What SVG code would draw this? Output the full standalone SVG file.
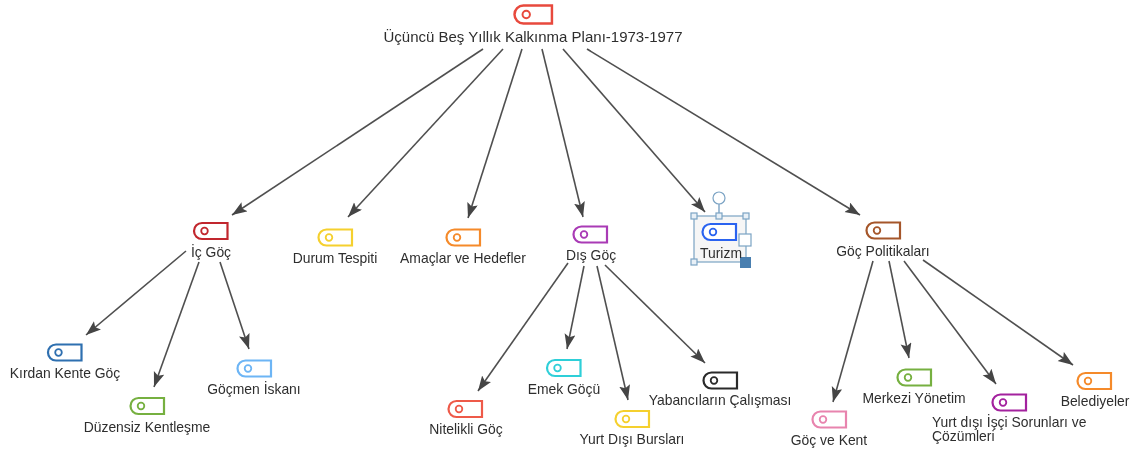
<svg xmlns="http://www.w3.org/2000/svg" width="1133" height="452" viewBox="0 0 1133 452">
<style>
text{font-family:"Liberation Sans",Arial,sans-serif;font-size:13.9px;fill:#2e2e2e;text-anchor:middle}
.e{stroke:#505050;stroke-width:1.6;fill:none;marker-end:url(#a)}
.t{fill:#fff;stroke-width:2.2}
.o{fill:none;stroke-width:1.8}
.h{fill:#e8f0f7;stroke:#7ba3c4;stroke-width:1.2}
</style>
<defs>
<marker id="a" markerUnits="userSpaceOnUse" markerWidth="16" markerHeight="12" refX="15" refY="5.5" orient="auto"><path d="M0 0L15 5.5L0 11L3 5.5Z" fill="#444"/></marker>
<symbol id="tag" viewBox="0 0 34 17" width="34" height="17" overflow="visible"><path class="t" stroke="inherit" d="M8 0.5H33.5V16.5H8A8 8 0 0 1 8 0.5Z"/><circle class="o" cx="10.500" cy="8.500" r="3.300"/></symbol>
<filter id="b" x="-5%" y="-5%" width="110%" height="110%"><feGaussianBlur stdDeviation="0.45"/></filter>
</defs>
<rect width="1133" height="452" fill="#fff"/>
<g filter="url(#b)">
<g id="connectors">
<path class="e" d="M483 49L232 215"/><path class="e" d="M503 49L348 217"/><path class="e" d="M522 49L468 218"/><path class="e" d="M542 49L583 217"/><path class="e" d="M563 49L705 212"/><path class="e" d="M587 49L860 215"/>
<path class="e" d="M186 251L86 335"/><path class="e" d="M199 262L154 387"/><path class="e" d="M220 262L249 349"/>
<path class="e" d="M568 263L478 391"/><path class="e" d="M584 266L567 349"/><path class="e" d="M597 266L628 400"/><path class="e" d="M605 265L705 363"/>
<path class="e" d="M873 261L833 402"/><path class="e" d="M889 261L909 358"/><path class="e" d="M904 261L996 384"/><path class="e" d="M923 260L1073 365"/>
</g>
<g id="n-root"><use href="#tag" x="514" y="5" width="39" height="19" stroke="#e8493c"/><text x="533" y="42" style="font-size:15px">Üçüncü Beş Yıllık Kalkınma Planı-1973-1977</text></g>
<g id="n-ic"><use href="#tag" x="194" y="222.500" stroke="#c1272d"/><text x="211" y="257">İç Göç</text></g>
<g id="n-durum"><use href="#tag" x="318.500" y="229" stroke="#f5d02f"/><text x="335" y="263">Durum Tespiti</text></g>
<g id="n-amac"><use href="#tag" x="446.500" y="229" stroke="#f58a2a"/><text x="463" y="263">Amaçlar ve Hedefler</text></g>
<g id="n-dis"><use href="#tag" x="573.500" y="226" stroke="#a93ab5"/><text x="591" y="260">Dış Göç</text></g>
<g id="n-turizm">
<rect x="694" y="216" width="52" height="46" fill="#f6f6f6" stroke="#7ba3c4" stroke-width="1.200"/>
<path d="M719 204V216" stroke="#7ba3c4" stroke-width="1.400"/><circle cx="719" cy="198" r="6" fill="#fff" stroke="#7ba3c4" stroke-width="1.200"/>
<rect class="h" x="691" y="213" width="6" height="6"/><rect class="h" x="716" y="213" width="6" height="6"/><rect class="h" x="743" y="213" width="6" height="6"/><rect class="h" x="691" y="259" width="6" height="6"/>
<rect x="739" y="234" width="12" height="12" fill="#fff" stroke="#7ba3c4" stroke-width="1.200"/><rect x="740" y="257" width="11" height="11" fill="#4a7fb0"/>
<use href="#tag" x="702.500" y="223.500" stroke="#2a64f0"/><text x="721" y="258">Turizm</text></g>
<g id="n-pol"><use href="#tag" x="866.500" y="222" stroke="#a5562a"/><text x="883" y="256">Göç Politikaları</text></g>
<g id="n-kirdan"><use href="#tag" x="48" y="344" stroke="#2f6fb0"/><text x="65" y="378">Kırdan Kente Göç</text></g>
<g id="n-duzensiz"><use href="#tag" x="130.500" y="397.500" stroke="#76b041"/><text x="147" y="432">Düzensiz Kentleşme</text></g>
<g id="n-gocmen"><use href="#tag" x="237.500" y="360" stroke="#6db5f5"/><text x="254" y="394">Göçmen İskanı</text></g>
<g id="n-nitelikli"><use href="#tag" x="448.500" y="400.500" stroke="#ee5a4a"/><text x="466" y="434">Nitelikli Göç</text></g>
<g id="n-emek"><use href="#tag" x="547" y="359.500" stroke="#2fcfd8"/><text x="564" y="394">Emek Göçü</text></g>
<g id="n-bursu"><use href="#tag" x="615.500" y="410.500" stroke="#f5d02f"/><text x="632" y="444">Yurt Dışı Bursları</text></g>
<g id="n-yabanci"><use href="#tag" x="703.500" y="372" stroke="#2b2b2b"/><text x="720" y="405">Yabancıların Çalışması</text></g>
<g id="n-kent"><use href="#tag" x="812.500" y="411" stroke="#e884ae"/><text x="829" y="445">Göç ve Kent</text></g>
<g id="n-merkezi"><use href="#tag" x="897.500" y="369" stroke="#76b041"/><text x="914" y="403">Merkezi Yönetim</text></g>
<g id="n-isci"><use href="#tag" x="992.500" y="394" stroke="#a3209e"/><text x="932" y="427" style="text-anchor:start">Yurt dışı İşçi Sorunları ve</text><text x="932" y="441" style="text-anchor:start">Çözümleri</text></g>
<g id="n-bel"><use href="#tag" x="1077.500" y="372.500" stroke="#f58a2a"/><text x="1095" y="406">Belediyeler</text></g>
</g>
</svg>
